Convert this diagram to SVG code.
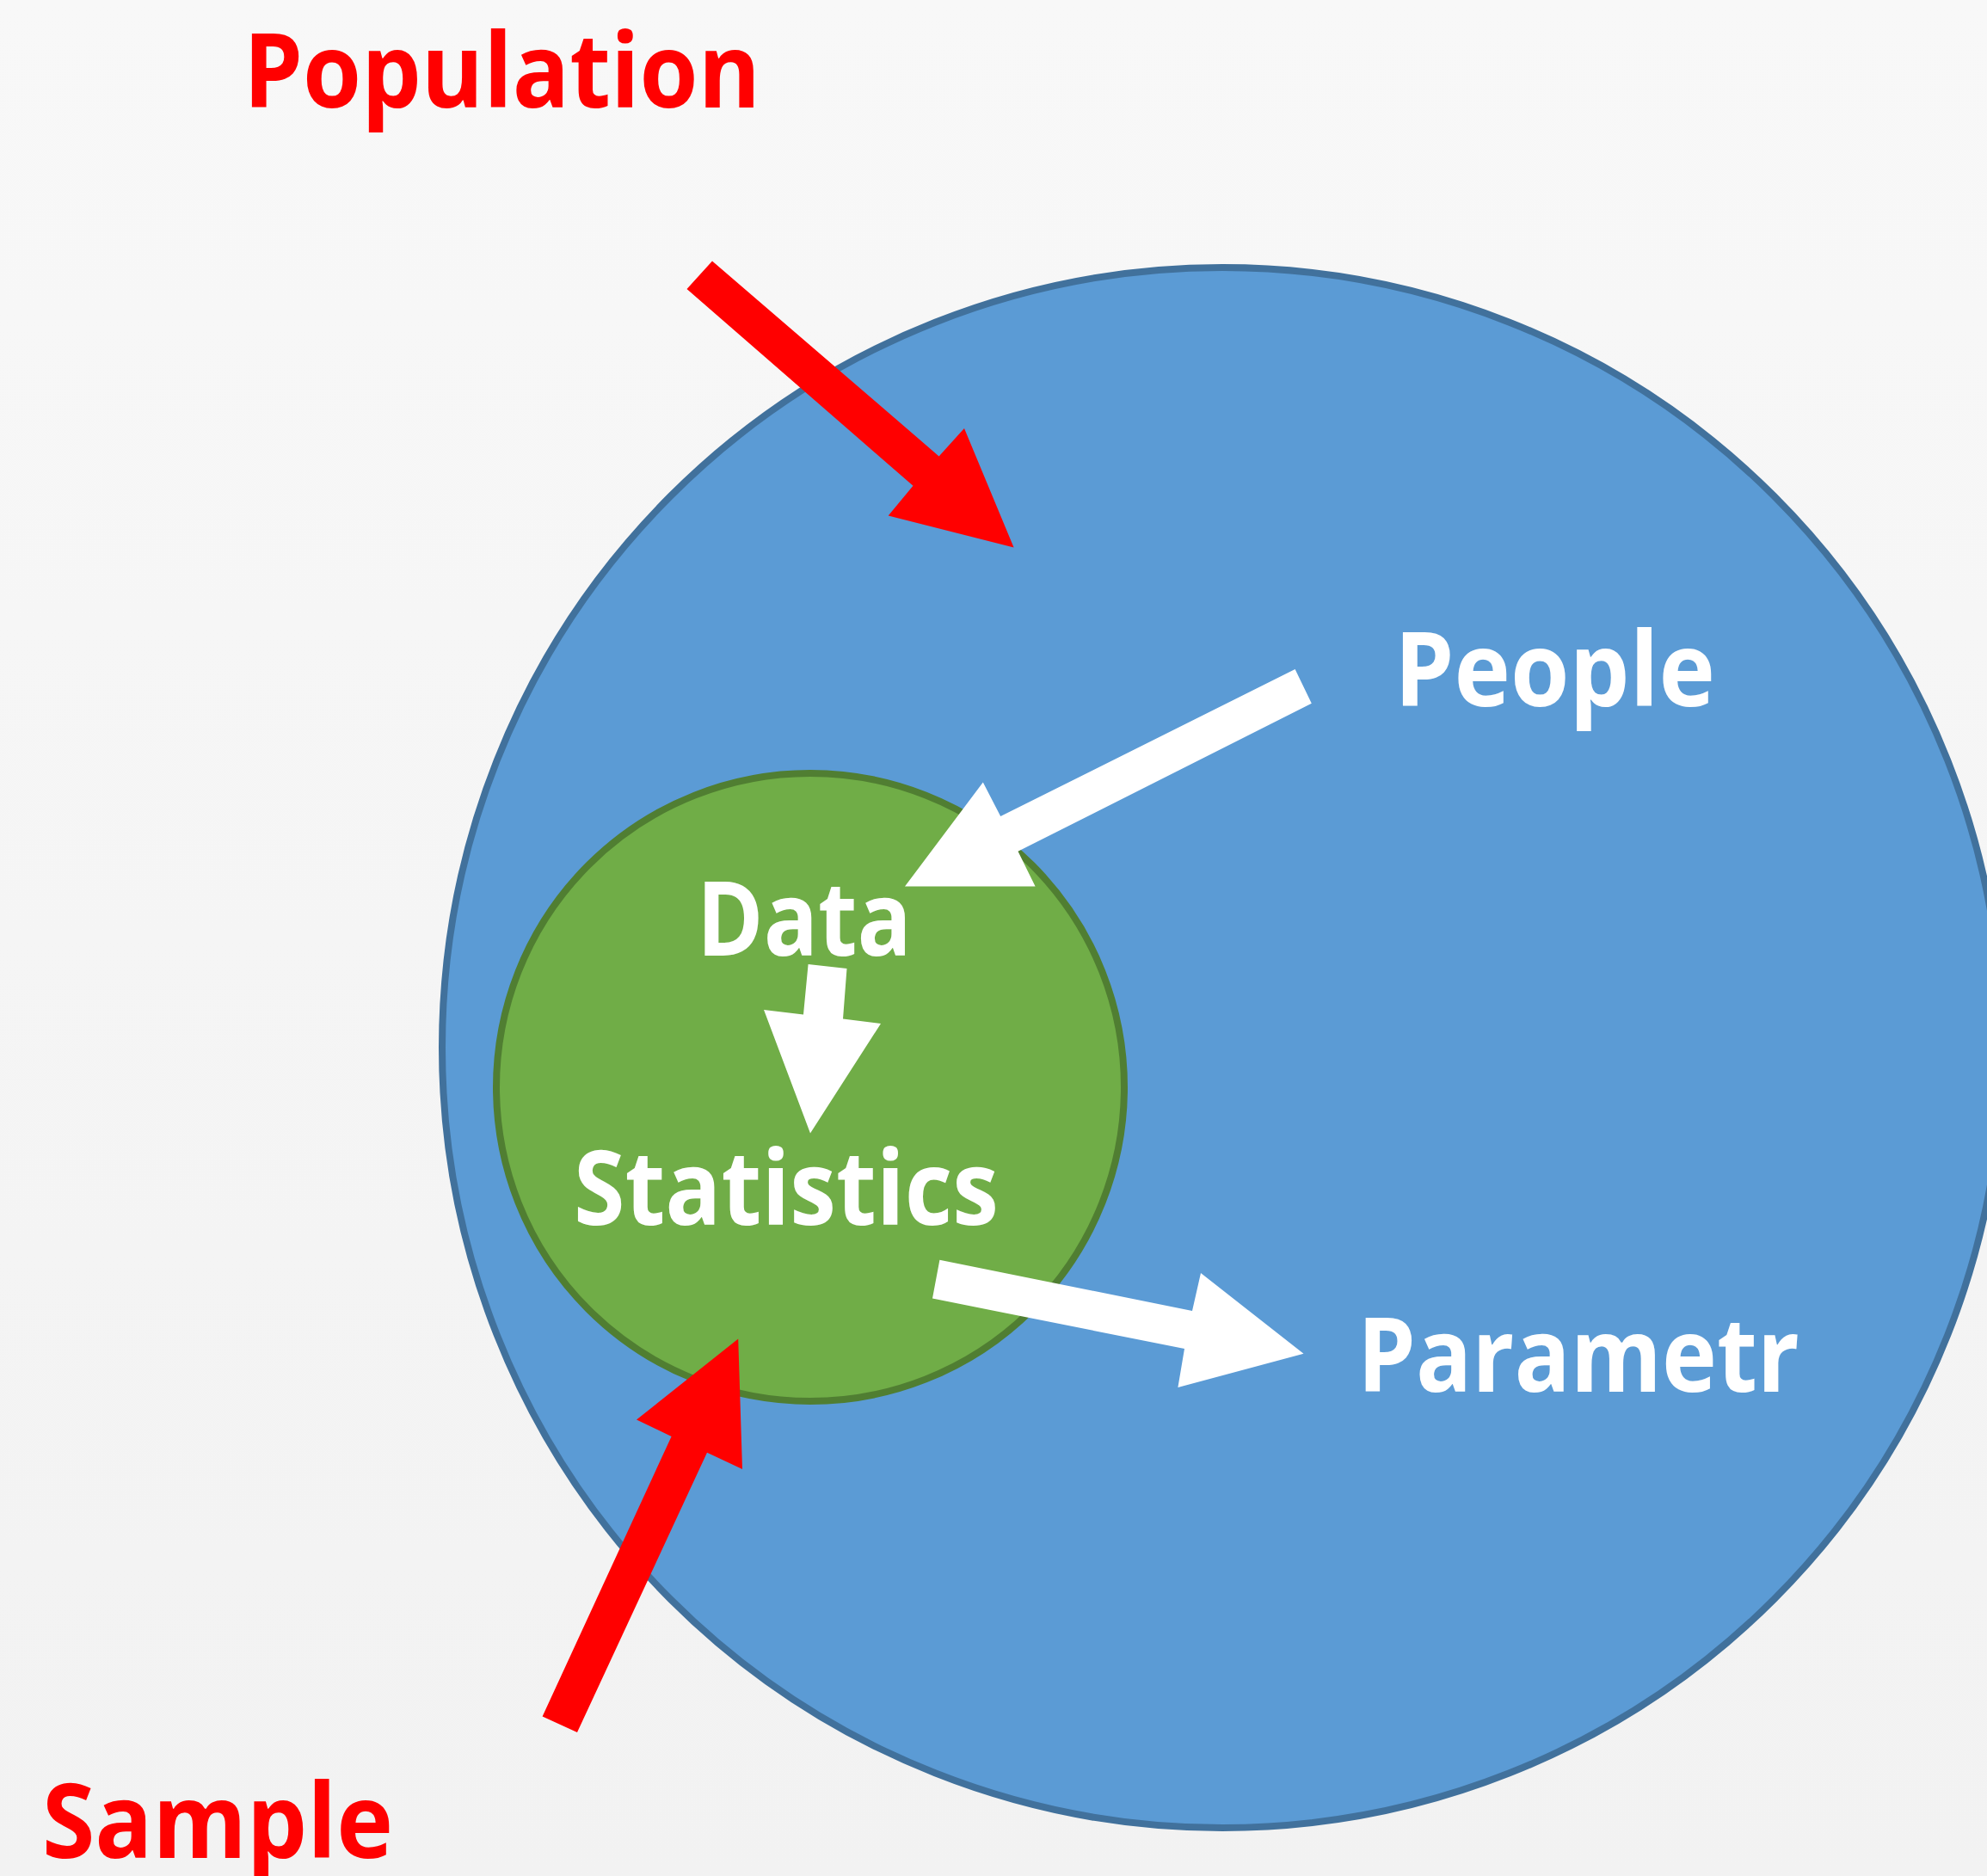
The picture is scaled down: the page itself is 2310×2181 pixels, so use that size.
<svg xmlns="http://www.w3.org/2000/svg" width="2310" height="2181" viewBox="0 0 2310 2181">
<defs>
<linearGradient id="bg" x1="0" y1="0" x2="0" y2="1">
<stop offset="0" stop-color="#F8F8F8"/>
<stop offset="1" stop-color="#F2F2F2"/>
</linearGradient>
</defs>
<style>
.lbl{font-family:"Open Sans","Noto Sans","Liberation Sans",sans-serif;font-weight:700;font-size:120px}
.red{fill:#FF0000}
.white{fill:#FFFFFF}
</style>
<rect x="0" y="0" width="2310" height="2181" fill="url(#bg)"/>
<g id="population-circle">
<circle cx="1421" cy="1218" r="907" fill="#5B9BD5" stroke="#41719C" stroke-width="8"/>
</g>
<g id="sample-circle">
<circle cx="942" cy="1264" r="365" fill="#70AD47" stroke="#507E32" stroke-width="8"/>
</g>
<g id="connectors">
<polygon class="red" points="798.5,336 828,303.5 1091.6,530.4 1121,498 1178.6,636.6 1032.7,599.6 1061.5,564.8"/>
<polygon class="white" points="1505.6,778 1524.8,817.7 1183.5,989.8 1203.6,1030.5 1052,1030.5 1142.8,909.5 1163.2,949"/>
<polygon class="white" points="939.6,1121 984.5,1126 980,1184.5 1024,1190 942,1317.5 888,1174 934,1179.5"/>
<polygon class="white" points="1092.4,1464.8 1084,1509.6 1377,1568 1369.4,1613 1515.5,1573.8 1396,1480 1386,1524"/>
<polygon class="red" points="630.6,1995.5 671,2014 822,1688.8 863,1708 858.2,1556.5 740,1650.5 780.6,1670"/>
</g>
<g id="label-population"><text class="lbl red" x="283" y="125" textLength="601" lengthAdjust="spacingAndGlyphs">Population</text></g>
<g id="label-sample"><text class="lbl red" x="49" y="2160" textLength="408" lengthAdjust="spacingAndGlyphs">Sample</text></g>
<g id="label-people"><text class="lbl white" x="1621" y="821" textLength="373" lengthAdjust="spacingAndGlyphs">People</text></g>
<g id="label-data"><text class="lbl white" x="810" y="1111" textLength="250" lengthAdjust="spacingAndGlyphs">Data</text></g>
<g id="label-statistics"><text class="lbl white" x="667" y="1424" textLength="494" lengthAdjust="spacingAndGlyphs">Statistics</text></g>
<g id="label-parametr"><text class="lbl white" x="1578" y="1618" textLength="514" lengthAdjust="spacingAndGlyphs">Parametr</text></g>
</svg>
